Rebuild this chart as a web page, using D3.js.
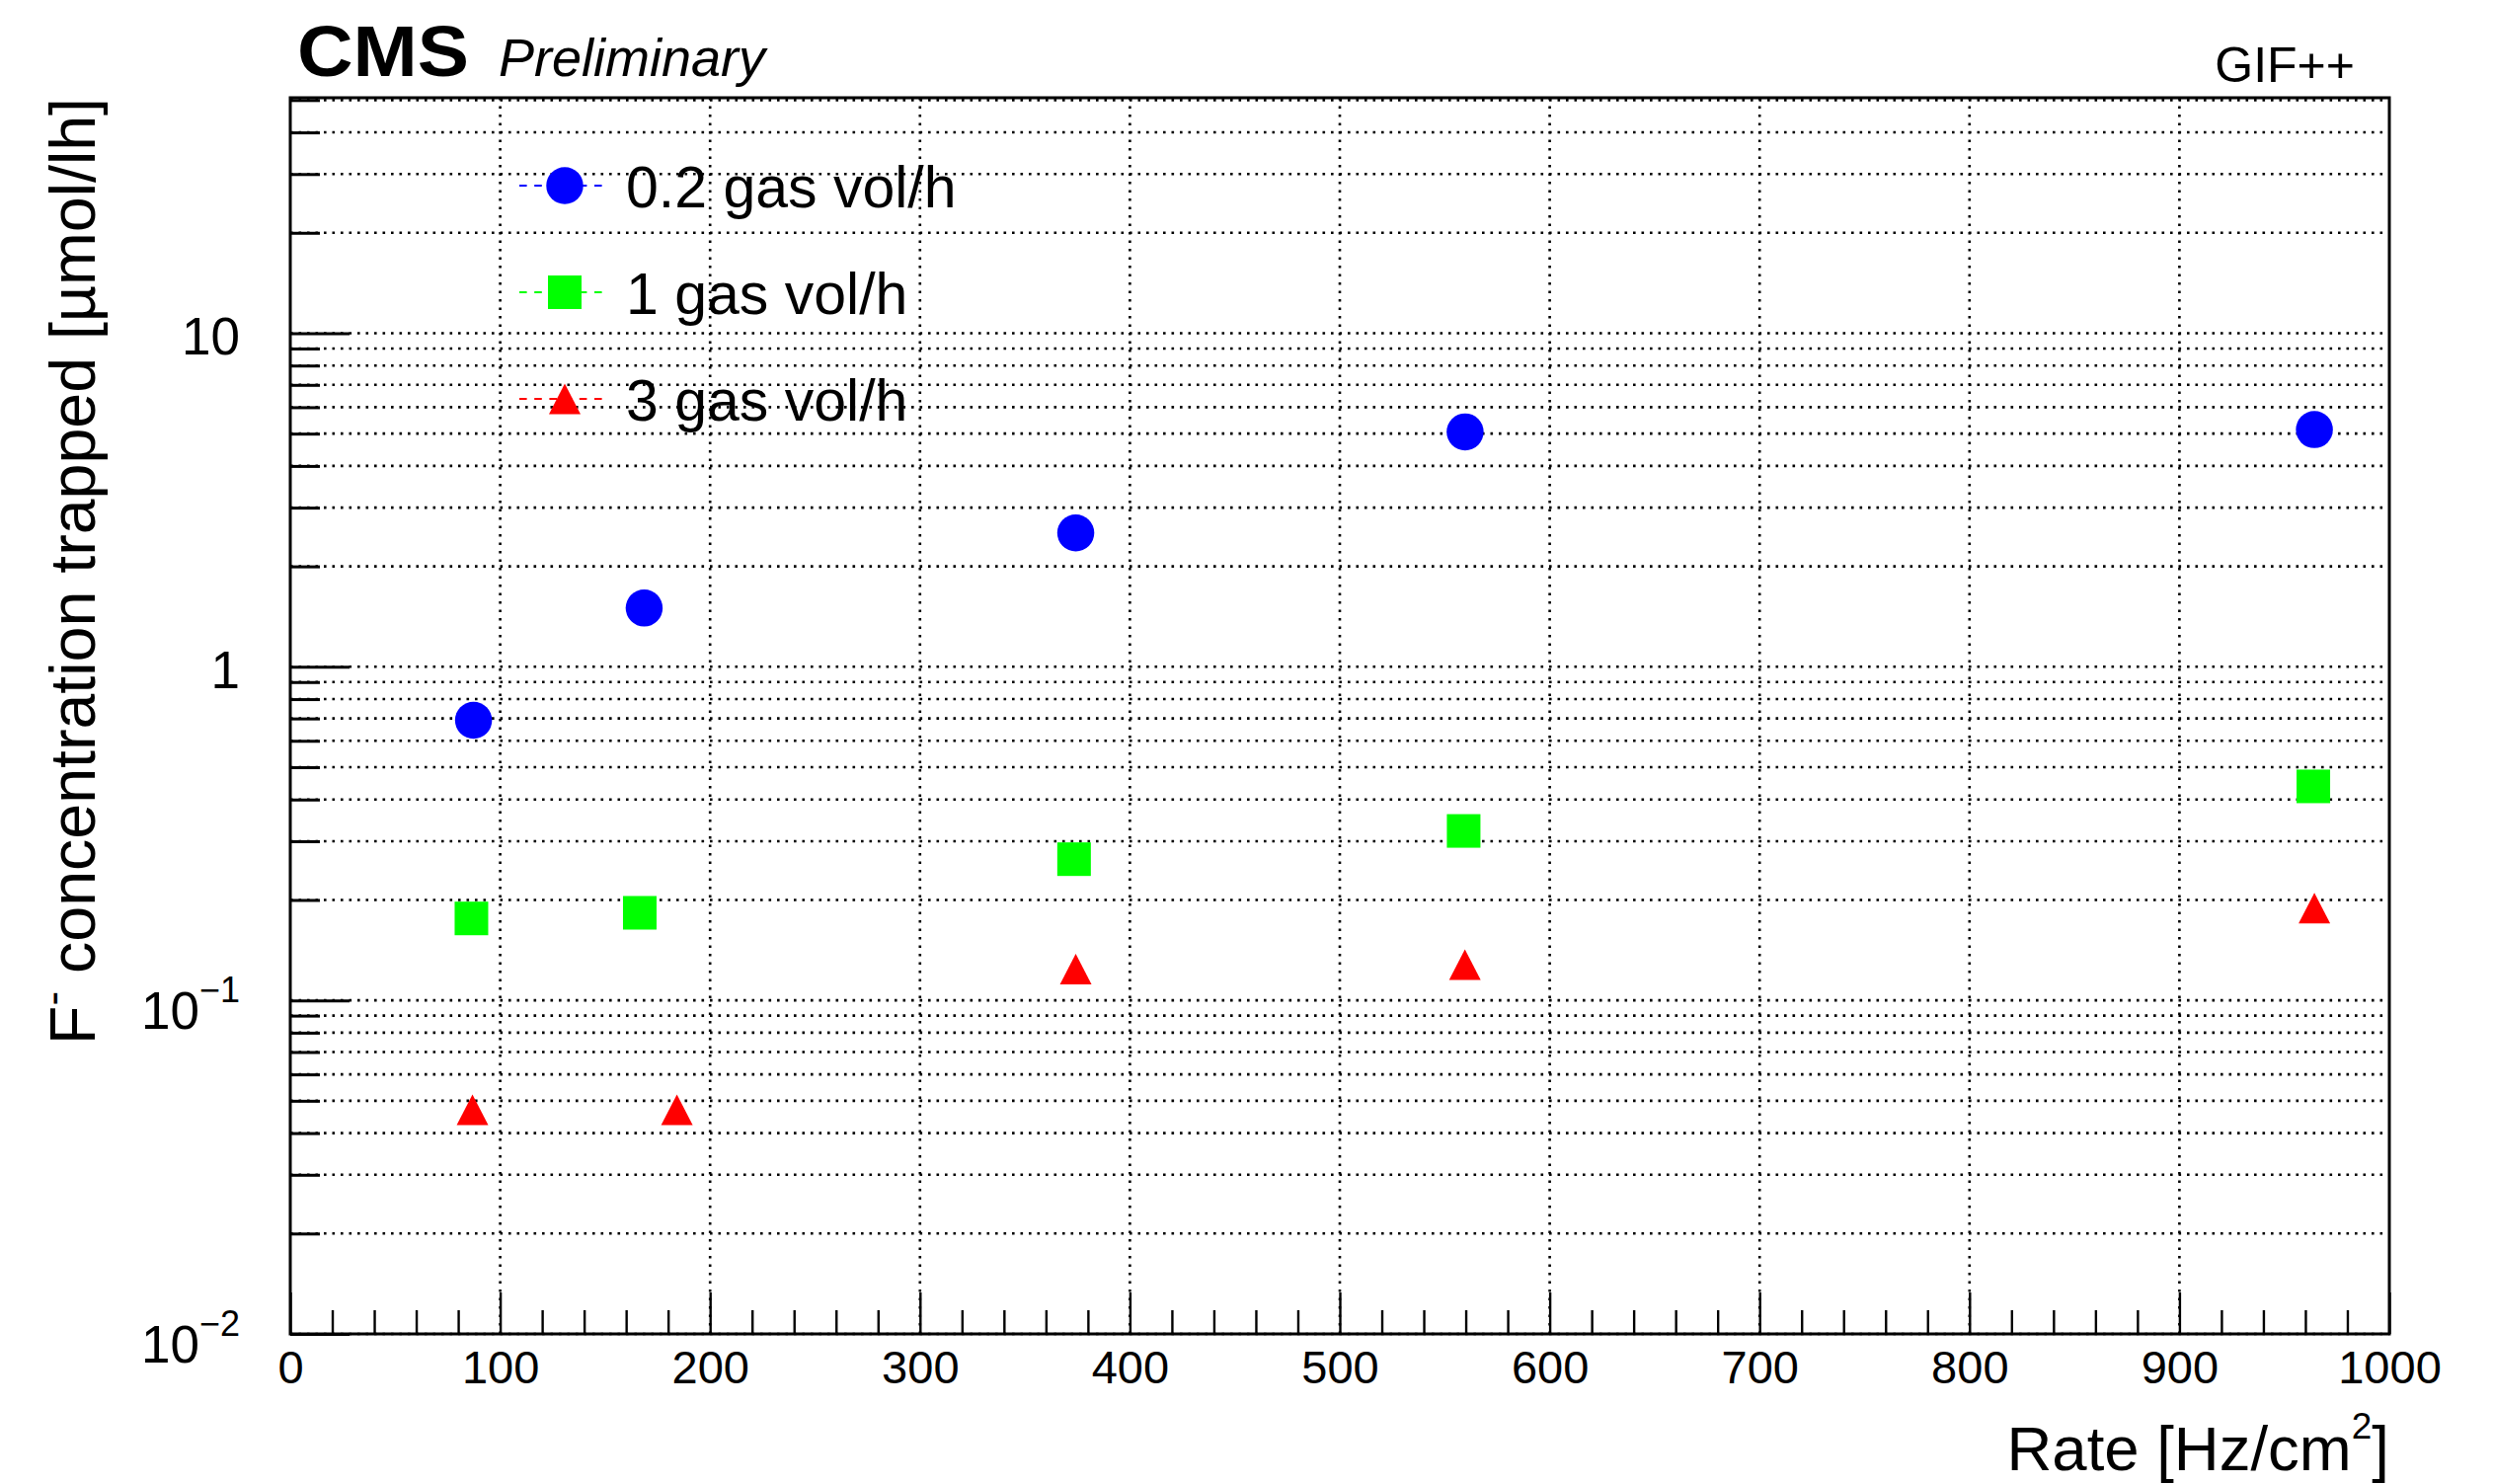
<!DOCTYPE html>
<html>
<head>
<meta charset="utf-8">
<script src="https://cdn.jsdelivr.net/npm/d3@7"></script>
<style>
  html, body { margin: 0; padding: 0; background: #fff; }
  svg { display: block; }
  text { font-family: "Liberation Sans", Arial, Helvetica, sans-serif; fill: #000; }
</style>
</head>
<body>
<svg id="chart" width="2525" height="1503"></svg>
<script>
// Irradiation rate of each measurement [Hz/cm^2]
const rateLow  = [87.3, 168.6, 374.2, 559.7, 964.3];
const rateMid  = [86.3, 166.5, 373.4, 559.0, 963.8];
const rateHigh = [86.8, 184.2, 374.2, 559.6, 964.3];

// Trapped F- concentration [umol/lh] for each gas flow
const concLow  = [0.691, 1.50, 2.52, 5.06, 5.14];   // 0.2 gas vol/h
const concMid  = [0.176, 0.183, 0.265, 0.322, 0.438]; // 1 gas vol/h
const concHigh = [0.047, 0.047, 0.124, 0.128, 0.189]; // 3 gas vol/h

const seriesNames = ["0.2 gas vol/h", "1 gas vol/h", "3 gas vol/h"];
const seriesColors = ["#0000ff", "#00ff00", "#ff0000"];
const seriesShapes = ["circle", "square", "triangle"];

const xMajorTicks = [0, 100, 200, 300, 400, 500, 600, 700, 800, 900, 1000];
const yDecadeTicks = [0.01, 0.1, 1, 10];
const yDecadeLabels = [["10", "\u22122"], ["10", "\u22121"], ["1", null], ["10", null]];

const series = [
  { name: seriesNames[0], color: seriesColors[0], shape: seriesShapes[0], rate: rateLow,  conc: concLow },
  { name: seriesNames[1], color: seriesColors[1], shape: seriesShapes[1], rate: rateMid,  conc: concMid },
  { name: seriesNames[2], color: seriesColors[2], shape: seriesShapes[2], rate: rateHigh, conc: concHigh }
];

// Frame geometry
const frame = { left: 294, right: 2420, top: 99, bottom: 1351 };

const x = d3.scaleLinear().domain([0, 1000]).range([frame.left, frame.right]);
const y = d3.scaleLog().domain([0.01, 50.8]).range([frame.bottom, frame.top]);

// minor log ticks 2..9 per decade, and minor linear ticks every 20
const yMinorTicks = [];
yDecadeTicks.forEach(d => { for (let m = 2; m <= 9; m++) { const v = m * d; if (v <= 50.8) yMinorTicks.push(+v.toPrecision(3)); } });
const xMinorTicks = d3.range(0, 1001, 20).filter(v => v % 100 !== 0);

const svg = d3.select("#chart");
svg.append("rect").attr("width", 2525).attr("height", 1503).attr("fill", "#fff");

// Dotted grid
const grid = svg.append("g").attr("stroke", "#000").attr("stroke-width", 2.6)
  .attr("stroke-dasharray", "2.6 5.9").attr("fill", "none");
grid.selectAll("line.h").data(yDecadeTicks.concat(yMinorTicks)).join("line")
  .attr("x1", frame.left).attr("x2", frame.right)
  .attr("y1", d => y(d)).attr("y2", d => y(d));
grid.selectAll("line.v").data(xMajorTicks.slice(1, -1)).join("line")
  .attr("x1", d => x(d)).attr("x2", d => x(d))
  .attr("y1", frame.top).attr("y2", frame.bottom);

// Axis ticks (pointing into the frame)
function tickGroup(axis, transform, width) {
  const g = svg.append("g").attr("transform", transform).call(axis);
  g.select(".domain").remove();
  g.selectAll("line").attr("stroke", "#000").attr("stroke-width", width);
  g.selectAll("text").remove();
  return g;
}
tickGroup(d3.axisRight(y).tickValues(yDecadeTicks).tickSize(60), `translate(${frame.left},0)`, 3);
tickGroup(d3.axisRight(y).tickValues(yMinorTicks).tickSize(30), `translate(${frame.left},0)`, 3);
tickGroup(d3.axisTop(x).tickValues(xMajorTicks).tickSize(42), `translate(0,${frame.bottom})`, 2.4);
tickGroup(d3.axisTop(x).tickValues(xMinorTicks).tickSize(24), `translate(0,${frame.bottom})`, 2.4);

// Frame
svg.append("rect")
  .attr("x", frame.left).attr("y", frame.top)
  .attr("width", frame.right - frame.left).attr("height", frame.bottom - frame.top)
  .attr("fill", "none").attr("stroke", "#000").attr("stroke-width", 3);

// X tick labels
const xLab = svg.append("g").attr("transform", `translate(0,${frame.bottom})`)
  .call(d3.axisBottom(x).tickValues(xMajorTicks).tickSize(0).tickPadding(17).tickFormat(d3.format("d")));
xLab.select(".domain").remove();
xLab.selectAll("text").attr("font-size", 47).attr("fill", "#000")
  .style("font-family", "'Liberation Sans', Arial, sans-serif");

// Y tick labels (powers of ten)
yDecadeTicks.forEach((v, i) => {
  const [base, expo] = yDecadeLabels[i];
  const t = svg.append("text").attr("text-anchor", "end").attr("x", 243)
    .attr("font-size", 53);
  if (expo) {
    t.attr("y", y(v) + 29);
    t.append("tspan").text(base);
    t.append("tspan").attr("font-size", 36).attr("dy", -27).text(expo);
  } else {
    t.attr("y", y(v) + 22).text(base);
  }
});

// Axis titles
const xt = svg.append("text").attr("text-anchor", "end")
  .attr("x", frame.right).attr("y", 1489).attr("font-size", 63.5);
xt.append("tspan").text("Rate [Hz/cm");
xt.append("tspan").attr("font-size", 37).attr("dy", -32).text("2");
xt.append("tspan").attr("dy", 32).text("]");

const yt = svg.append("text").attr("text-anchor", "end")
  .attr("transform", `translate(96,${frame.top}) rotate(-90)`).attr("font-size", 64.5);
yt.append("tspan").text("F");
yt.append("tspan").attr("font-size", 44).attr("dy", -28).text("-");
yt.append("tspan").attr("dy", 28).text(" concentration trapped [\u00b5mol/lh]");

// Header texts
svg.append("text").attr("x", 301).attr("y", 77).attr("font-size", 72).attr("font-weight", "bold")
  .attr("textLength", 174).attr("lengthAdjust", "spacingAndGlyphs").text("CMS");
svg.append("text").attr("x", 505).attr("y", 77).attr("font-size", 54).attr("font-style", "italic")
  .text("Preliminary");
svg.append("text").attr("x", 2385).attr("y", 83).attr("font-size", 50).attr("text-anchor", "end")
  .text("GIF++");

// Marker drawing
const markerDims = { circle: 37.5, square: 34, triangle: [32, 31] };
function drawMarker(g, shape, cx, cy, color) {
  if (shape === "circle") {
    g.append("circle").attr("cx", cx).attr("cy", cy).attr("r", markerDims.circle / 2).attr("fill", color);
  } else if (shape === "square") {
    const s = markerDims.square;
    g.append("rect").attr("x", cx - s / 2).attr("y", cy - s / 2).attr("width", s).attr("height", s).attr("fill", color);
  } else {
    const [w, h] = markerDims.triangle;
    const p = d3.path();
    p.moveTo(cx, cy - h / 2); p.lineTo(cx + w / 2, cy + h / 2); p.lineTo(cx - w / 2, cy + h / 2); p.closePath();
    g.append("path").attr("d", p.toString()).attr("fill", color);
  }
}

// Data points
const pts = svg.append("g");
series.forEach(s => {
  s.rate.forEach((r, i) => drawMarker(pts, s.shape, x(r), y(s.conc[i]), s.color));
});

// Legend
const legend = svg.append("g");
series.forEach((s, i) => {
  const ry = 188 + i * 108;
  legend.append("line").attr("x1", 526).attr("x2", 617).attr("y1", ry).attr("y2", ry)
    .attr("stroke", s.color).attr("stroke-width", 2.2).attr("stroke-dasharray", "7.6 7.6");
  drawMarker(legend, s.shape, 572, ry, s.color);
  legend.append("text").attr("x", 634).attr("y", ry + 22).attr("font-size", 59).text(s.name);
});
</script>
</body>
</html>
